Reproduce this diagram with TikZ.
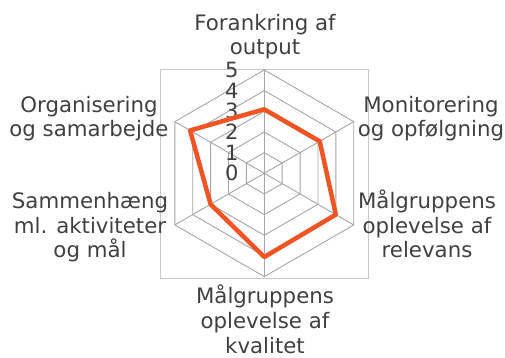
\documentclass[tikz,border=0pt]{standalone}
\usepackage{fontspec}
\setmainfont{DejaVu Sans}
\definecolor{gridgray}{RGB}{165,165,165}
\definecolor{boxgray}{RGB}{200,200,200}
\definecolor{textgray}{RGB}{64,64,64}
\definecolor{seriesred}{RGB}{240,84,34}
\def\hexring#1{\draw[gridgray, line width=0.9pt] (90:#1) -- (30:#1) -- (-30:#1) -- (-90:#1) -- (210:#1) -- (150:#1) -- cycle;}
\tikzset{
	axislabel/.style={font=\fontsize{21.3}{24.5}\selectfont, text=textgray, align=center, inner sep=0pt, anchor=base},
	ticklabel/.style={font=\fontsize{21}{24.5}\selectfont, text=textgray, inner sep=0pt, anchor=east}
}

\begin{document}
\begin{tikzpicture}[x=1pt, y=1pt]
	%%%%% START %%%%%
	\useasboundingbox (0, 0) rectangle (505, 358);
	
	\draw[boxgray, line width=0.9pt] (160, 80) rectangle (368, 289);
	
	\begin{scope}[shift={(264.3, 184.7)}]
		\hexring{20.66}
		\hexring{41.32}
		\hexring{61.98}
		\hexring{82.64}
		\hexring{103.3}
		
		\draw[gridgray, line width=0.9pt] (0, 0) -- (90:103.3);
		\draw[gridgray, line width=0.9pt] (0, 0) -- (30:103.3);
		\draw[gridgray, line width=0.9pt] (0, 0) -- (-30:103.3);
		\draw[gridgray, line width=0.9pt] (0, 0) -- (-90:103.3);
		\draw[gridgray, line width=0.9pt] (0, 0) -- (210:103.3);
		\draw[gridgray, line width=0.9pt] (0, 0) -- (150:103.3);
		
		\node[ticklabel] (tick0) at (-25.5, 0) {0};
		\node[ticklabel] (tick1) at (-25.5, 20.66) {1};
		\node[ticklabel] (tick2) at (-25.5, 41.32) {2};
		\node[ticklabel] (tick3) at (-25.5, 61.98) {3};
		\node[ticklabel] (tick4) at (-25.5, 82.64) {4};
		\node[ticklabel] (tick5) at (-25.5, 103.3) {5};
		
		\draw[seriesred, line width=4.5pt, line join=round] (90:64.0) -- (30:64.0) -- (-30:82.6) -- (-90:83.7) -- (210:62.0) -- (150:85.7) -- cycle;
	\end{scope}
	
	% base anchor sits on the last line
	\node[axislabel] (forankring) at (265, 303) {Forankring af\\output};
	\node[axislabel] (monitorering) at (431, 221) {Monitorering\\og opfølgning};
	\node[axislabel] (relevans) at (427, 100) {Målgruppens\\oplevelse af\\relevans};
	\node[axislabel] (kvalitet) at (265, 5) {Målgruppens\\oplevelse af\\kvalitet};
	\node[axislabel] (sammenhaeng) at (90, 100) {Sammenhæng\\ml. aktiviteter\\og mål};
	\node[axislabel] (organisering) at (89, 221) {Organisering\\og samarbejde};
	
	%%%%% END %%%%%
\end{tikzpicture}
\end{document}
